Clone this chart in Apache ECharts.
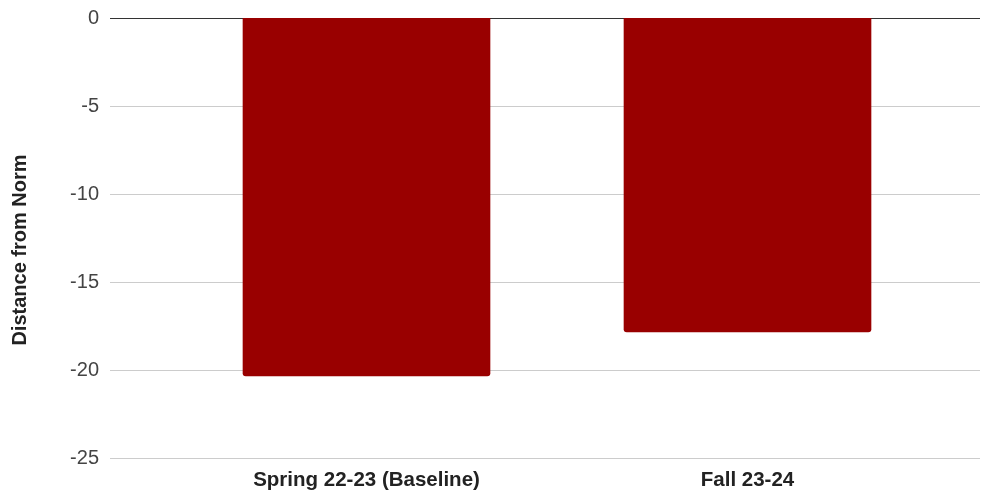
<!DOCTYPE html>
<html><head><meta charset="utf-8">
<script src="https://cdn.jsdelivr.net/npm/echarts@6/dist/echarts.min.js"></script>
<style>html,body{margin:0;padding:0;background:#fff}#c{width:995px;height:491px}</style>
</head><body><div id="c"></div>
<script>
const categories = ['Spring 22-23 (Baseline)', 'Fall 23-24'];
const values = [-20.4, -17.9];
const yTicks = { min: -25, max: 0, interval: 5 };
const yName = 'Distance from Norm';

const chart = echarts.init(document.getElementById('c'));
const font = 'Arial, "Liberation Sans", sans-serif';
chart.setOption({
  animation: false,
  grid: [
    { left: 110, right: 15, top: 18, bottom: 33 },
    { left: 176, right: 57, top: 18, bottom: 33 }
  ],
  graphic: [{
    type: 'text', x: 20, y: 250, rotation: Math.PI / 2,
    style: { text: yName, fill: '#222', font: 'bold 20px ' + font, align: 'center', verticalAlign: 'middle' }
  }],
  xAxis: [
    { gridIndex: 0, type: 'value', show: false },
    { gridIndex: 1, type: 'category', data: categories,
      axisLine: { show: false }, axisTick: { show: false },
      axisLabel: { color: '#222', fontSize: 20.5, fontWeight: 'bold', fontFamily: font, margin: 13 } }
  ],
  yAxis: [
    { gridIndex: 0, type: 'value', min: yTicks.min, max: yTicks.max, interval: yTicks.interval,
      axisLine: { show: false }, axisTick: { show: false },
      axisLabel: { color: '#444', fontSize: 20, fontFamily: font, margin: 11 },
      splitLine: { lineStyle: { color: ['#cccccc','#cccccc','#cccccc','#cccccc','#cccccc','#333333'], width: 1 } } },
    { gridIndex: 1, type: 'value', min: yTicks.min, max: yTicks.max, interval: yTicks.interval, show: false, splitLine: { show: false } }
  ],
  series: [{
    type: 'bar', xAxisIndex: 1, yAxisIndex: 1, data: values,
    barCategoryGap: '35%',
    itemStyle: { color: '#990000', borderRadius: [0, 0, 3, 3] }
  }]
});
</script></body></html>
